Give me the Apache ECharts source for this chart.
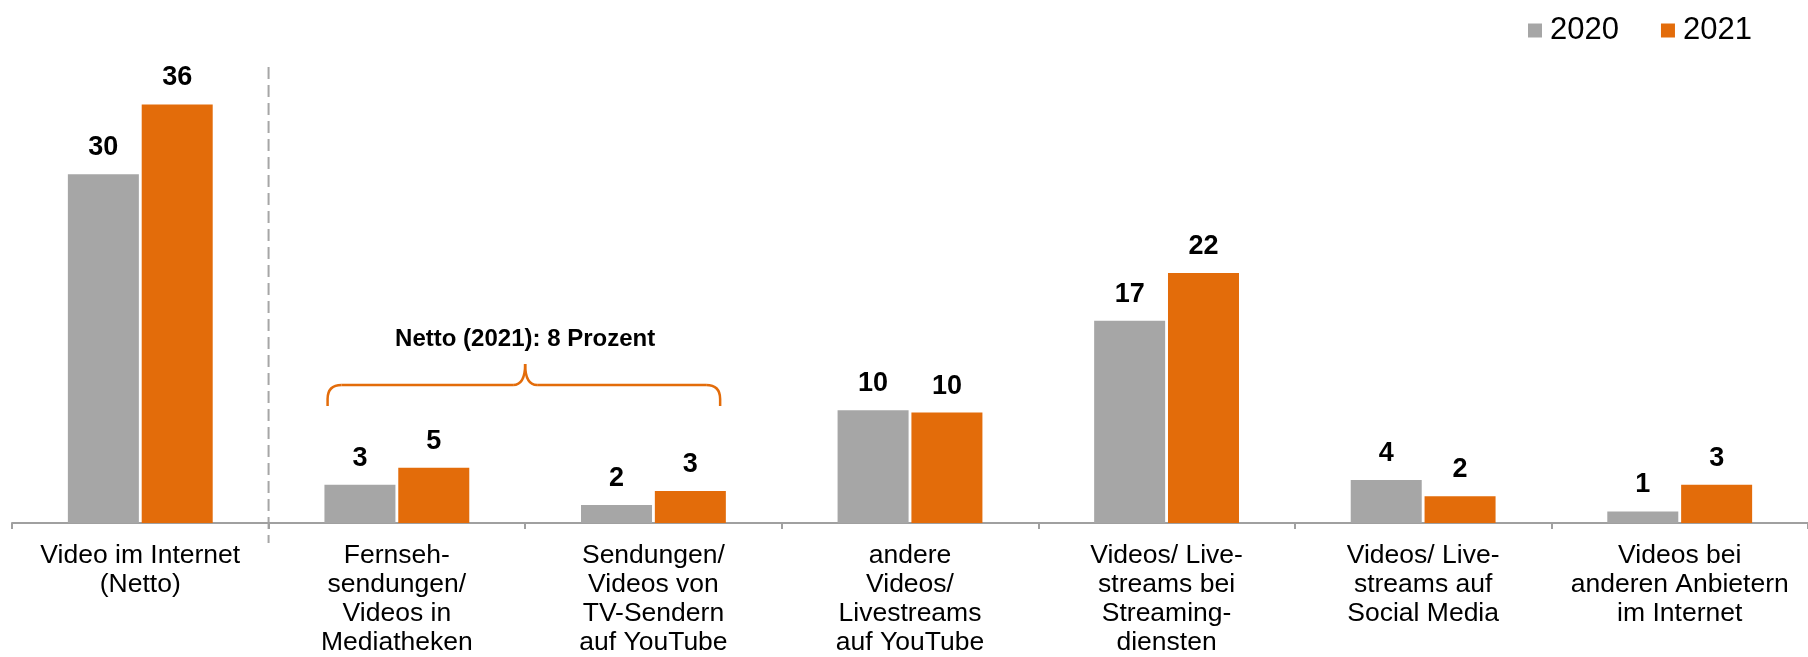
<!DOCTYPE html>
<html>
<head>
<meta charset="utf-8">
<script src="https://cdn.jsdelivr.net/npm/echarts@6/dist/echarts.min.js"></script>
<style>
  html, body { margin: 0; padding: 0; background: #fff; }
  #chart { width: 1808px; height: 657px; }
</style>
</head>
<body>
<div id="chart"></div>
<script>
// ---- data ----
const categories = [
  'Video im Internet\n(Netto)',
  'Fernseh-\nsendungen/\nVideos in\nMediatheken',
  'Sendungen/\nVideos von\nTV-Sendern\nauf YouTube',
  'andere\nVideos/\nLivestreams\nauf YouTube',
  'Videos/ Live-\nstreams bei\nStreaming-\ndiensten',
  'Videos/ Live-\nstreams auf\nSocial Media',
  'Videos bei\nanderen Anbietern\nim Internet'
];
const seriesNames = ['2020', '2021'];
const values2020 = [30, 3.3, 1.55, 9.7, 17.4, 3.7, 1.0];
const values2021 = [36, 4.75, 2.75, 9.5, 21.5, 2.3, 3.3];
const labels2020 = [30, 3, 2, 10, 17, 4, 1];
const labels2021 = [36, 5, 3, 10, 22, 2, 3];
const bracketText = 'Netto (2021): 8 Prozent';

const GRAY = '#A6A6A6';
const ORANGE = '#E36C0A';
const FONT = "'Liberation Sans', Arial, sans-serif";

const chart = echarts.init(document.getElementById('chart'), null, { renderer: 'canvas' });

function labelCfg(labels) {
  return {
    show: true,
    position: 'top',
    distance: 13,
    formatter: p => String(labels[p.dataIndex]),
    fontFamily: FONT,
    fontSize: 27,
    fontWeight: 'bold',
    color: '#000',
    lineHeight: 27
  };
}

chart.setOption({
  animation: false,
  backgroundColor: '#fff',
  textStyle: { fontFamily: FONT },
  legend: {
    data: seriesNames,
    left: 1523,
    top: 10,
    icon: 'rect',
    itemWidth: 14,
    itemHeight: 14,
    itemGap: 42,
    textStyle: { fontFamily: FONT, fontSize: 31, color: '#000', padding: [0, 0, 0, 3] }
  },
  grid: { left: 12, top: 58, width: 1804, height: 465, containLabel: false },
  xAxis: {
    type: 'category',
    data: categories,
    boundaryGap: true,
    axisLine: { show: true, lineStyle: { color: '#A0A0A0', width: 2 } },
    axisTick: { show: true, length: 6, alignWithLabel: false, lineStyle: { color: '#A0A0A0', width: 2 } },
    axisLabel: {
      interval: 0,
      margin: 18,
      fontFamily: FONT,
      fontSize: 26.5,
      lineHeight: 29,
      color: '#000',
      align: 'center'
    },
    splitLine: { show: false }
  },
  yAxis: {
    type: 'value',
    min: 0,
    max: 40,
    show: false,
    splitLine: { show: false }
  },
  series: [
    {
      name: seriesNames[0],
      type: 'bar',
      data: values2020,
      barWidth: 71,
      barGap: '4%',
      itemStyle: { color: GRAY },
      label: labelCfg(labels2020)
    },
    {
      name: seriesNames[1],
      type: 'bar',
      data: values2021,
      barWidth: 71,
      barGap: '4%',
      itemStyle: { color: ORANGE },
      label: labelCfg(labels2021)
    }
  ]
});

// ---- annotations positioned through the chart's own scales ----
const cx = i => chart.convertToPixel({ xAxisIndex: 0 }, i);
const c0 = cx(0), c1 = cx(1), c2 = cx(2);
const w = c1 - c0;
const axisY = chart.convertToPixel({ yAxisIndex: 0 }, 0);

// dashed separator between first and second category
const sepX = (c0 + c1) / 2;

// curly bracket over categories 1 and 2
const bl = c1 - 0.27 * w;
const br = c2 + 0.26 * w;
const bm = (c1 + c2) / 2;
const yEnd = axisY - 117;
const yH = axisY - 138;
const yPeak = axisY - 159;
const r = 14;
const bStyle = { stroke: ORANGE, lineWidth: 2.5, fill: null };

function seg(x1, y1, x2, y2) {
  return { type: 'line', shape: { x1, y1, x2, y2 }, style: bStyle, silent: true };
}
function curve(x1, y1, cpx, cpy, x2, y2) {
  return { type: 'bezierCurve', shape: { x1, y1, x2, y2, cpx1: cpx, cpy1: cpy }, style: bStyle, silent: true };
}

chart.setOption({
  graphic: [
    {
      type: 'line',
      shape: { x1: sepX, y1: axisY - 456, x2: sepX, y2: axisY + 20 },
      style: { stroke: GRAY, lineWidth: 2, lineDash: [12, 6] },
      silent: true
    },
    seg(bl, yEnd, bl, yH + r),
    curve(bl, yH + r, bl, yH, bl + r, yH),
    seg(bl + r, yH, bm - 12, yH),
    curve(bm - 12, yH, bm, yH, bm, yPeak),
    curve(bm, yPeak, bm, yH, bm + 12, yH),
    seg(bm + 12, yH, br - r, yH),
    curve(br - r, yH, br, yH, br, yH + r),
    seg(br, yH + r, br, yEnd),
    {
      type: 'text',
      x: bm,
      y: axisY - 184,
      style: {
        text: bracketText,
        fontFamily: FONT,
        fontSize: 24,
        fontWeight: 'bold',
        fill: '#000',
        align: 'center',
        verticalAlign: 'middle'
      },
      silent: true
    }
  ]
});
</script>
</body>
</html>
